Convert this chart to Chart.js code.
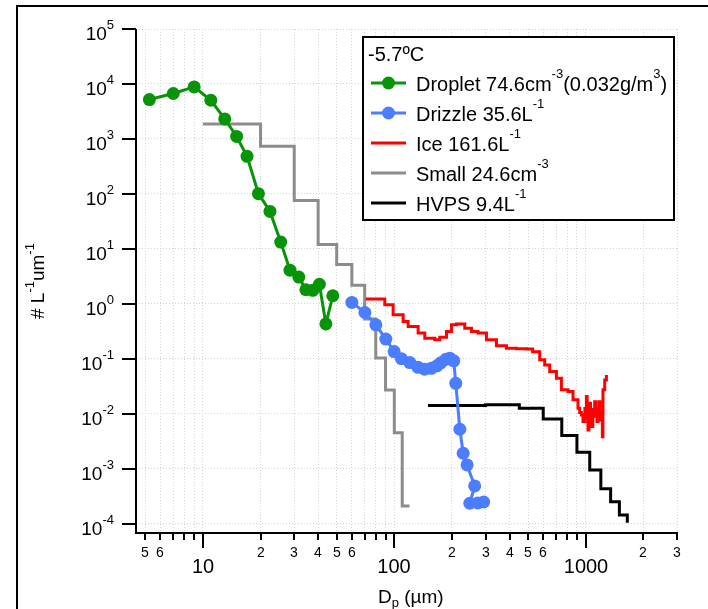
<!DOCTYPE html>
<html><head><meta charset="utf-8">
<script src="https://cdn.jsdelivr.net/npm/chart.js@4.4.0/dist/chart.umd.min.js"></script>
<style>
html,body{margin:0;padding:0;background:#fff;}
#wrap{position:relative;width:708px;height:609px;overflow:hidden;background:#fff;}
canvas{display:block;}
</style></head><body>
<div id="wrap"><canvas id="c" width="708" height="609"></canvas></div>
<script>
// ---------- data ----------
const dropletD = [5.25, 7.0, 9.0, 11.0, 13.0, 15.0, 17.0, 19.5, 22.4, 25.5, 28.5, 31.7, 34.5, 37.5, 40.6, 43.9, 47.7];
const dropletN = [5200, 6700, 8850, 5050, 2310, 1110, 482, 101, 48, 13.3, 4.1, 3.06, 1.80, 1.76, 2.27, 0.43, 1.40];

const drizzleD = [60.0, 70.2, 80.1, 90.3, 99.8, 109, 120.5, 133, 144, 156, 167, 175, 186, 195, 204.5, 209.5, 220, 229, 240, 263, 248, 273, 293];
const drizzleN = [1.06, 0.694, 0.415, 0.228, 0.135, 0.100, 0.0853, 0.0698, 0.0647, 0.0669, 0.0743, 0.0842, 0.0976, 0.1026, 0.0916, 0.0357, 0.00522, 0.00191, 0.00117, 4.85e-4, 2.35e-4, 2.38e-4, 2.48e-4];

const iceD = [71.0, 89.2, 98.6, 111.2, 118.1, 133.2, 144.3, 162.7, 172.8, 187.3, 198.9, 211.2, 233.4, 253.0, 273.9, 303.0, 341.7, 385.4, 434.6, 490.1, 528.6, 575.2, 610.8, 648.6, 703.1, 746.6, 808.6, 858.6, 911.6, 930, 949.8, 968.1, 990, 1008.5, 1018, 1028, 1040, 1049, 1060, 1071, 1090, 1114, 1130, 1146, 1160, 1174, 1186, 1198, 1210, 1222, 1231, 1257, 1283];
const iceN = [1.22, 0.959, 0.630, 0.476, 0.386, 0.293, 0.237, 0.221, 0.247, 0.313, 0.415, 0.427, 0.361, 0.313, 0.293, 0.221, 0.172, 0.156, 0.152, 0.150, 0.134, 0.0955, 0.0774, 0.0585, 0.0444, 0.0272, 0.0253, 0.0179, 0.0126, 0.0105, 0.00952, 0.00719, 0.0125, 0.0205, 0.0085, 0.00508, 0.011, 0.0155, 0.0075, 0.00583, 0.012, 0.0166, 0.009, 0.00719, 0.0125, 0.0166, 0.0095, 0.00772, 0.011, 0.00383, 0.0272, 0.0413, 0.0509];

const smallD = [10, 20, 30, 40, 50, 60, 70, 80, 90, 100, 110, 120];
const smallN = [1875, 732, 76, 12.0, 5.2, 2.17, 0.53, 0.103, 0.027, 0.0045, 2.1e-4, 2.1e-4];

const hvpsD = [150, 300, 450, 600, 750, 900, 1050, 1200, 1350, 1500, 1650];
const hvpsN = [0.0141, 0.0145, 0.0126, 0.00805, 0.0040, 0.00199, 9.5e-4, 4.3e-4, 2.5e-4, 1.44e-4, 1.04e-4];

const xTickValues = [5,6,7,8,9,10,20,30,40,50,60,70,80,90,100,200,300,400,500,600,700,800,900,1000,2000,3000];
const xTickLabels = ['5','6','','','','10','2','3','4','5','6','','','','100','2','3','4','5','6','','','','1000','2','3'];
const xMajorValues = [10, 100, 1000];
const yTickValues = [1e-4,1e-3,1e-2,1e-1,1,10,100,1000,1e4,1e5];
const yTickExps = ['-4','-3','-2','-1','0','1','2','3','4','5'];

const legendTitle = '-5.7ºC';
const legendDroplet = [['Droplet 74.6cm','n'],['-3','sup'],['(0.032g/m','n'],['3','sup'],[')','n']];
const legendDrizzle = [['Drizzle 35.6L','n'],['-1','sup']];
const legendIce = [['Ice 161.6L','n'],['-1','sup']];
const legendSmall = [['Small 24.6cm','n'],['-3','sup']];
const legendHvps = [['HVPS 9.4L','n'],['-1','sup']];
const xTitle = [['D','n'],['p','sub'],[' (µm)','n']];
const yTitle = [['# L','n'],['-1','sup'],['um','n'],['-1','sup']];

// ---------- styles ----------
const GREEN = '#089408', BLUE = '#4a7dff', RED = '#ff0000', GRAY = '#8c8c8c', BLACK = '#000000';
const FAM = '"Liberation Sans", Arial, Helvetica, sans-serif';
const F = s => s + 'px ' + FAM;

function richWidth(ctx, parts, S){
  let w = 0;
  for (const [t,k] of parts){ ctx.font = F(k==='n'?S.base:S.small); w += ctx.measureText(t).width; }
  return w;
}
function drawRich(ctx, parts, x, y, align, S){
  const w = richWidth(ctx, parts, S);
  let cx = align==='right' ? x-w : align==='center' ? x-w/2 : x;
  ctx.textAlign = 'left'; ctx.textBaseline = 'alphabetic';
  for (const [t,k] of parts){
    ctx.font = F(k==='n'?S.base:S.small);
    const dy = k==='sup' ? -S.rise : k==='sub' ? S.drop : 0;
    ctx.fillText(t, cx, y+dy);
    cx += ctx.measureText(t).width;
  }
}

const pts = (D, N) => D.map((d,i)=>({x:d, y:N[i]}));

const decor = {
  id: 'decor',
  afterDraw(chart){
    const {ctx, chartArea:a, scales:{x, y}} = chart;
    ctx.save();
    ctx.fillStyle = '#000'; ctx.strokeStyle = '#000';
    // figure frame
    ctx.lineWidth = 2;
    ctx.beginPath(); ctx.moveTo(17, 609); ctx.lineTo(17, 6); ctx.lineTo(708, 6); ctx.stroke();
    // axes lines
    ctx.beginPath(); ctx.moveTo(a.left, a.top); ctx.lineTo(a.left, a.bottom); ctx.lineTo(a.right+1, a.bottom); ctx.stroke();
    // y ticks + labels
    yTickValues.forEach((v,i)=>{
      const py = Math.round(y.getPixelForValue(v));
      ctx.beginPath(); ctx.moveTo(a.left-14, py); ctx.lineTo(a.left, py); ctx.stroke();
      drawRich(ctx, [['10','n'],[yTickExps[i],'sup']], 114, py+11, 'right', {base:19, small:13, rise:11, drop:0});
    });
    // x ticks + labels
    xTickValues.forEach((v,i)=>{
      const px = Math.round(x.getPixelForValue(v));
      const major = xMajorValues.includes(v);
      ctx.beginPath(); ctx.moveTo(px, a.bottom); ctx.lineTo(px, a.bottom + (major?15:7)); ctx.stroke();
      const lab = xTickLabels[i];
      if (!lab) return;
      ctx.textAlign = 'center'; ctx.textBaseline = 'alphabetic';
      if (major){ ctx.font = F(20); ctx.fillText(lab, px, a.bottom + 40); }
      else { ctx.font = F(14); ctx.fillText(lab, px, a.bottom + 24); }
    });
    // axis titles
    drawRich(ctx, xTitle, 378, 603, 'left', {base:19, small:13, rise:0, drop:4});
    ctx.save();
    ctx.translate(44, 319); ctx.rotate(-Math.PI/2);
    drawRich(ctx, yTitle, 0, 0, 'left', {base:19, small:13, rise:10, drop:0});
    ctx.restore();
    // legend
    const L = 363, T = 37, R = 674, B = 220;
    ctx.fillStyle = '#fff'; ctx.fillRect(L, T, R-L, B-T);
    ctx.lineWidth = 2; ctx.strokeStyle = '#000'; ctx.strokeRect(L, T, R-L, B-T);
    ctx.fillStyle = '#000';
    const LS = {base:20, small:13, rise:13, drop:0};
    drawRich(ctx, [[legendTitle,'n']], 368, 53+7.5, 'left', LS);
    const rows = [
      [legendDroplet, GREEN, true],
      [legendDrizzle, BLUE, true],
      [legendIce, RED, false],
      [legendSmall, GRAY, false],
      [legendHvps, BLACK, false]
    ];
    rows.forEach(([parts, col, mk], i)=>{
      const cy = 83 + 30*i;
      ctx.strokeStyle = col; ctx.lineWidth = 3;
      ctx.beginPath(); ctx.moveTo(371, cy); ctx.lineTo(406, cy); ctx.stroke();
      if (mk){ ctx.fillStyle = col; ctx.beginPath(); ctx.arc(388.5, cy, 6.5, 0, Math.PI*2); ctx.fill(); }
      ctx.fillStyle = '#000';
      drawRich(ctx, parts, 416, cy+7.5, 'left', LS);
    });
    ctx.restore();
  }
};

const gridCommon = { color: '#d4d4d4', lineWidth: 1, drawTicks: false };

new Chart(document.getElementById('c'), {
  type: 'line',
  data: {
    datasets: [
      { label: 'Droplet', data: pts(dropletD, dropletN), borderColor: GREEN, backgroundColor: GREEN,
        borderWidth: 3, pointRadius: 6.5, pointBorderWidth: 0, pointBackgroundColor: GREEN },
      { label: 'Drizzle', data: pts(drizzleD, drizzleN), borderColor: BLUE, backgroundColor: BLUE,
        borderWidth: 3, pointRadius: 6.5, pointBorderWidth: 0, pointBackgroundColor: BLUE },
      { label: 'Ice', data: pts(iceD, iceN), borderColor: RED, borderWidth: 3, pointRadius: 0, stepped: 'before' },
      { label: 'Small', data: pts(smallD, smallN), borderColor: GRAY, borderWidth: 3, pointRadius: 0, stepped: 'before' },
      { label: 'HVPS', data: pts(hvpsD, hvpsN), borderColor: BLACK, borderWidth: 3, pointRadius: 0, stepped: 'before' }
    ]
  },
  options: {
    responsive: false, animation: false, devicePixelRatio: 1,
    events: [],
    elements: { line: { tension: 0, borderJoinStyle: 'miter', borderCapStyle: 'butt' } },
    layout: { padding: { left: 0, top: 29, right: 31, bottom: 0 } },
    plugins: { legend: { display: false }, tooltip: { enabled: false } },
    scales: {
      x: {
        type: 'logarithmic', min: 4.47, max: 3000,
        afterBuildTicks: s => { s.ticks = xTickValues.map(v => ({ value: v })); },
        afterFit: s => { s.height = 76; },
        ticks: { display: false, autoSkip: false },
        grid: gridCommon,
        border: { display: false, dash: [1, 2] }
      },
      y: {
        type: 'logarithmic', min: 6.76e-5, max: 1e5,
        afterBuildTicks: s => { s.ticks = yTickValues.map(v => ({ value: v })); },
        afterFit: s => { s.width = 136; },
        ticks: { display: false, autoSkip: false },
        grid: gridCommon,
        border: { display: false, dash: [1, 2] }
      }
    }
  },
  plugins: [decor]
});
</script>
</body></html>
